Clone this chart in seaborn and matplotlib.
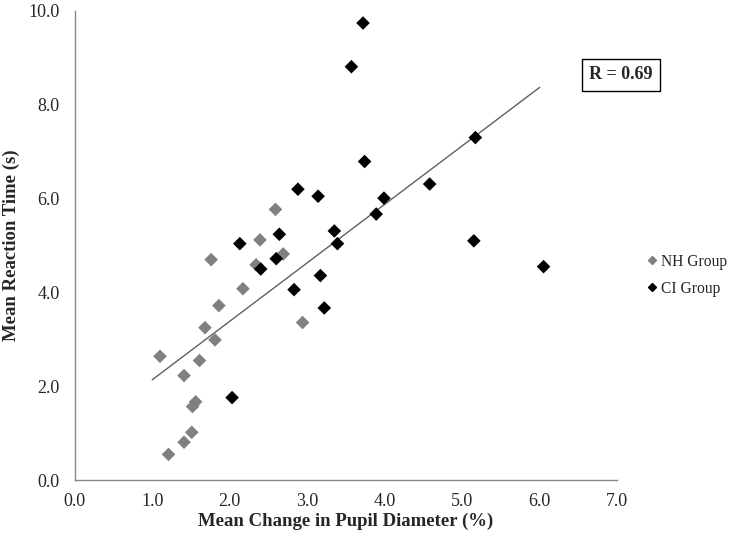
import numpy as np
import pandas as pd
import matplotlib
matplotlib.use("Agg")
import matplotlib.pyplot as plt
import seaborn as sns

# NH group (grey diamonds)
nh_x = [2.59, 2.39, 1.76, 2.69, 2.34, 2.17, 1.86, 2.94, 1.68, 1.81,
        1.10, 1.61, 1.41, 1.56, 1.52, 1.51, 1.41, 1.21]
nh_y = [5.77, 5.12, 4.70, 4.82, 4.59, 4.08, 3.72, 3.36, 3.25, 2.99,
        2.64, 2.55, 2.23, 1.67, 1.57, 1.02, 0.81, 0.55]

# CI group (black diamonds)
ci_x = [3.72, 3.57, 3.74, 2.88, 3.14, 3.89, 3.35, 2.64, 2.13, 3.39, 2.60,
        2.40, 3.17, 2.83, 3.22, 2.03, 5.17, 4.58, 3.99, 5.15, 6.05]
ci_y = [9.74, 8.81, 6.79, 6.20, 6.05, 5.67, 5.31, 5.24, 5.04, 5.04, 4.72,
        4.50, 4.36, 4.06, 3.67, 1.76, 7.30, 6.31, 6.01, 5.10, 4.55]

# trend line end points
trend_x = [1.0, 6.0]
trend_y = [2.14, 8.37]

groups = ["NH Group", "CI Group"]

df = pd.DataFrame({
    "x": nh_x + ci_x,
    "y": nh_y + ci_y,
    "group": [groups[0]] * len(nh_x) + [groups[1]] * len(ci_x),
})

sns.set_style("white")
plt.rcParams["font.family"] = ["Liberation Serif", "DejaVu Serif"]

fig = plt.figure(figsize=(7.33, 5.42), dpi=100)
ax = fig.add_axes([0.102, 0.114, 0.740, 0.866])

sns.scatterplot(data=df, x="x", y="y", hue="group", style="group",
                palette={"NH Group": "#808080", "CI Group": "#000000"},
                markers={"NH Group": "D", "CI Group": "D"},
                s=48, linewidth=0, ax=ax, legend=False, zorder=3)

sns.lineplot(x=trend_x, y=trend_y, color="#606060", lw=1, ax=ax, zorder=2)

ticks_x = np.arange(0, 7.1, 1)
ticks_y = np.arange(0, 10.1, 2)
ax.set_xlim(0, 7)
ax.set_ylim(0, 10)
ax.set_xticks(ticks_x)
ax.set_yticks(ticks_y)
ax.set_xticklabels([f"{v:.1f}" for v in ticks_x])
ax.set_yticklabels([f"{v:.1f}" for v in ticks_y])
ax.tick_params(axis="both", direction="out", length=5, width=1,
               color="#888888", labelsize=13, pad=4)
ax.tick_params(axis="y", pad=6)

for side in ["top", "right"]:
    ax.spines[side].set_visible(False)
for side in ["left", "bottom"]:
    ax.spines[side].set_color("#888888")
    ax.spines[side].set_linewidth(1)

ax.set_xlabel("Mean Change in Pupil Diameter (%)", fontsize=13.5,
              fontweight="bold", labelpad=2)
ax.set_ylabel("Mean Reaction Time (s)", fontsize=13.5,
              fontweight="bold", labelpad=6)

fig.text(0.847, 0.862, "R = 0.69", fontsize=13, fontweight="bold",
         ha="center", va="center",
         bbox=dict(boxstyle="square,pad=0.4", fc="white", ec="black", lw=1))

handles = [
    plt.Line2D([], [], marker="D", color="#808080", ls="", markersize=4),
    plt.Line2D([], [], marker="D", color="#000000", ls="", markersize=4),
]
fig.legend(handles, groups, loc="upper left", bbox_to_anchor=(0.874, 0.543),
           frameon=False, fontsize=11.2, handlelength=0.6, handletextpad=0.3,
           labelspacing=0.7, borderaxespad=0)

fig.savefig("out.png", dpi=100)
